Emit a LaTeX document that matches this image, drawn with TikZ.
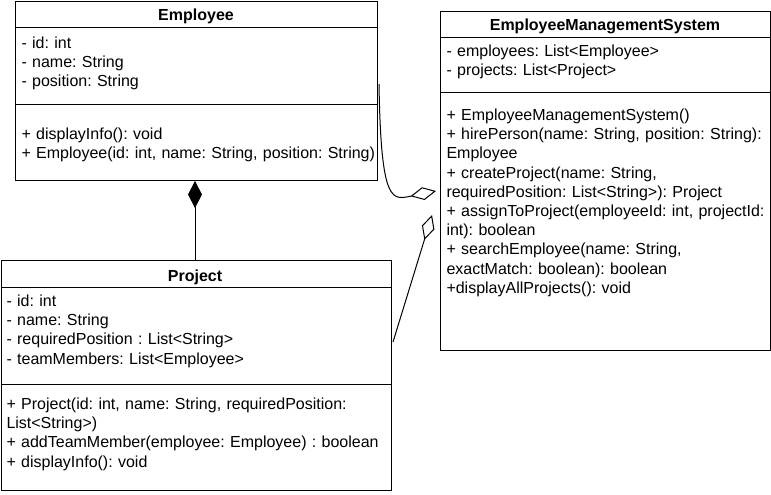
\documentclass[tikz,border=0pt]{standalone}
\usepackage{fontspec}
\setmainfont{Liberation Sans}
\usetikzlibrary{arrows.meta}
\frenchspacing
\begin{document}
\begin{tikzpicture}[x=0.75pt,y=-0.75pt,line width=0.75pt,
  umlbox/.style={draw,inner sep=0,anchor=north west},
  txt/.style={anchor=base west,inner sep=0,text width=#1,align=left,font=\fontsize{12}{14.4}\selectfont\frenchspacing},
  ttl/.style={anchor=base,inner sep=0,font=\fontsize{12}{14.4}\selectfont\bfseries},
  comp/.style={-{Diamond[length=20.25pt,width=10.5pt]}},
  aggr/.style={-{Diamond[open,length=19.5pt,width=9.75pt]}}]
\useasboundingbox (0,0) rectangle (771,494);
% Employee
\node[umlbox,minimum width=271.5pt,minimum height=134.25pt] (emp) at (15,1) {};
\draw (emp.west |- 0,27) -- (emp.east |- 0,27);
\draw (emp.west |- 0,104) -- (emp.east |- 0,104);
\node[ttl] (empT) at (196,20.5) {Employee};
\node[txt=400pt] (empA) at (21,48.5) {- id: int\\- name: String\\- position: String};
\node[txt=400pt] (empM) at (21,139.5) {+ displayInfo(): void\\+ Employee(id: int, name: String, position: String)};
% Project
\node[umlbox,minimum width=292.5pt,minimum height=172.5pt] (proj) at (0.5,260) {};
\draw (proj.west |- 0,287) -- (proj.east |- 0,287);
\draw (proj.west |- 0,384) -- (proj.east |- 0,384);
\node[ttl] (projT) at (195,281.5) {Project};
\node[txt=400pt] (projA) at (6,306.5) {- id: int\\- name: String\\- requiredPosition : List<String>\\- teamMembers: List<Employee>};
\node[txt=400pt] (projM) at (6,409.5) {+ Project(id: int, name: String, requiredPosition:\\List<String>)\\+ addTeamMember(employee: Employee) : boolean\\+ displayInfo(): void};
% EmployeeManagementSystem
\node[umlbox,minimum width=247.5pt,minimum height=254.25pt] (ems) at (440,11) {};
\draw (ems.west |- 0,37) -- (ems.east |- 0,37);
\draw (ems.west |- 0,92) -- (ems.east |- 0,92);
\node[ttl] (emsT) at (605,30.5) {EmployeeManagementSystem};
\node[txt=400pt] (emsA) at (446,56.5) {- employees: List<Employee>\\- projects: List<Project>};
\node[txt=400pt] (emsM) at (446,120.5) {+ EmployeeManagementSystem()\\+ hirePerson(name: String, position: String):\\Employee\\+ createProject(name: String,\\requiredPosition: List<String>): Project\\+ assignToProject(employeeId: int, projectId:\\int): boolean\\+ searchEmployee(name: String,\\exactMatch: boolean): boolean\\+displayAllProjects(): void};
% connectors
\draw[comp] (proj.north -| 195,0) -- (emp.south -| 195,0);
\coordinate (e1) at (379,84);
\coordinate (a1) at (436,191);
\draw[aggr] (e1) .. controls (381,205) and (392,200) .. (a1);
\coordinate (p1) at (393,342);
\coordinate (a2) at (432,215);
\draw[aggr] (p1) -- (a2);
\end{tikzpicture}
\end{document}
